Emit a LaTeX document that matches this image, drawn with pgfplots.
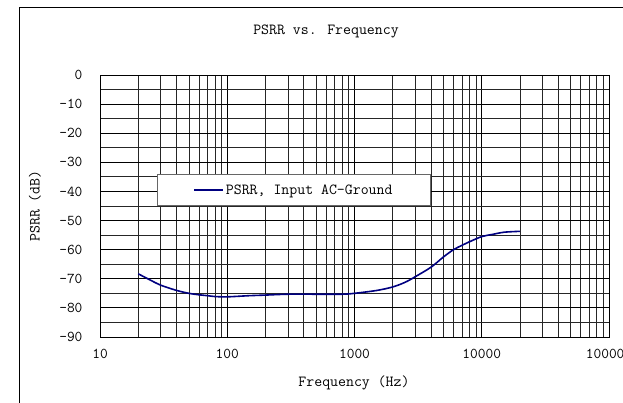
\documentclass[border=0pt]{standalone}
\usepackage{fontspec}
\renewcommand{\familydefault}{\ttdefault}
\usepackage{pgfplots}
\pgfplotsset{compat=1.18}
\definecolor{psrrblue}{RGB}{0,0,128}
\begin{document}
\ttfamily
\begin{tikzpicture}[x=1pt,y=1pt]
\useasboundingbox (0,0) rectangle (623,402);
\draw[line width=1pt, black] (19,-20) -- (19,394) -- (660,394);
\begin{axis}[
  at={(100pt,65pt)}, anchor=south west,
  scale only axis, width=509pt, height=262pt,
  xmode=log, log basis x=10,
  xmin=10, xmax=100000, ymin=-90, ymax=0,
  xtick={10,100,1000,10000,100000},
  xticklabels={10,100,1000,10000,100000},
  minor xtick={20,30,40,50,60,70,80,90,200,300,400,500,600,700,800,900,2000,3000,4000,5000,6000,7000,8000,9000,20000,30000,40000,50000,60000,70000,80000,90000},
  ytick={-90,-80,-70,-60,-50,-40,-30,-20,-10,0},
  minor ytick={-85,-75,-65,-55,-45,-35,-25,-15,-5},
  grid=both,
  major grid style={black, line width=0.8pt},
  minor grid style={black!85, line width=0.8pt},
  axis line style={black, line width=0.8pt},
  major tick length=0pt, minor tick length=0pt,
  tick label style={font=\ttfamily\fontsize{15}{17}\selectfont},
  /pgf/number format/assume math mode=true,
  yticklabel style={xshift=-14pt},
  xticklabel style={yshift=-9pt},
  legend style={at={(0.381,0.561)}, anchor=center, draw=black!60, line width=0.8pt, inner xsep=36pt, inner ysep=8pt, font=\ttfamily\fontsize{15.4}{17}\selectfont},
  legend image code/.code={\draw[#1] (0pt,0pt) -- (29pt,0pt);},
]
\addplot[psrrblue, line width=1.6pt, smooth] coordinates {
(20,-68.3) (25,-70.5) (30,-72.2) (40,-74.0) (50,-75.0) (60,-75.5) (70,-75.8) (80,-76.1)
(100,-76.2) (150,-75.8) (200,-75.6) (300,-75.3) (500,-75.3) (800,-75.3) (1000,-75.0)
(1500,-74.0) (2000,-72.8) (2500,-71.2) (3000,-69.3) (4000,-66.0) (5000,-62.5) (6000,-60.0)
(7000,-58.5) (8000,-57.3) (10000,-55.5) (12000,-54.8) (15000,-54.0) (20000,-53.7)
};
\addlegendentry{PSRR, Input AC-Ground}
\end{axis}
\node[font=\ttfamily\fontsize{15.4}{17}\selectfont] at (326,371) {PSRR vs. Frequency};
\node[font=\ttfamily\fontsize{15.4}{17}\selectfont] at (354,19) {Frequency (Hz)};
\node[font=\ttfamily\fontsize{15.4}{17}\selectfont, rotate=90] at (35,196) {PSRR (dB)};
\end{tikzpicture}
\end{document}
